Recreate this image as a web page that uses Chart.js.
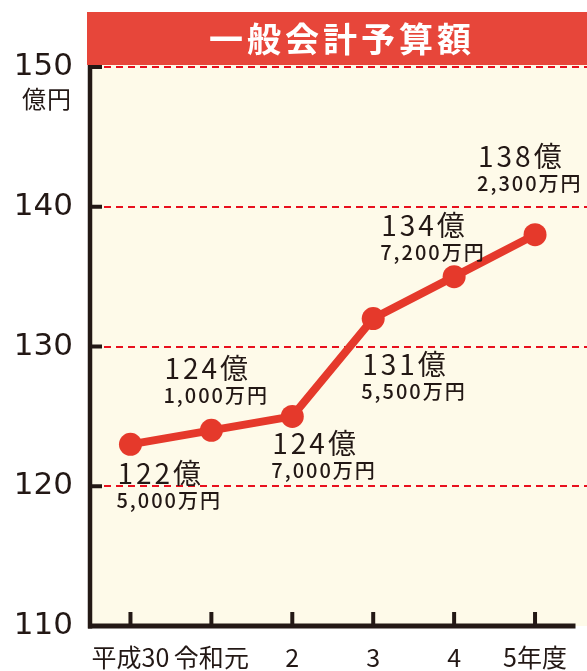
<!DOCTYPE html>
<html>
<head>
<meta charset="utf-8">
<script src="https://cdn.jsdelivr.net/npm/chart.js@4.4.1/dist/chart.umd.min.js"></script>
<style>
  html, body { margin: 0; padding: 0; background: #ffffff; }
  #wrap { width: 587px; height: 671px; }
</style>
</head>
<body>
<div id="wrap"><canvas id="c" width="587" height="671"></canvas></div>
<script>
// ---- data ----
const titleText = '一般会計予算額';
const unitText = '億円';
const categories = ['平成30', '令和元', '2', '3', '4', '5年度'];
const plottedValues = [123, 124, 125, 132, 135, 138];
const labelOku = ['122億', '124億', '124億', '131億', '134億', '138億'];
const labelMan = ['5,000万円', '1,000万円', '7,000万円', '5,500万円', '7,200万円', '2,300万円'];
const yTicks = [110, 120, 130, 140, 150];
const gridValues = [120, 130, 140, 150];

// ---- styles ----
const RED_TITLE = '#e7463a';
const RED_LINE = '#e5392b';
const RED_GRID = '#e8101e';
const CREAM = '#fefae9';
const INK = '#231815';
const JP = "'Noto Sans CJK JP', 'Noto Sans', sans-serif";
// label placement (offset of big line's left/middle from point), purely presentational
const labelOffsets = [[-13, 29], [-47, -62], [-20, 27], [-11, 46], [-73, -51], [-57, -78]];

const decor = {
  id: 'decor',
  beforeDraw(chart) {
    const ctx = chart.ctx;
    const y = chart.scales.y, x = chart.scales.x;
    const area = chart.chartArea;
    const W = chart.width;
    ctx.save();
    ctx.fillStyle = '#ffffff';
    ctx.fillRect(0, 0, W, chart.height);
    // cream plot background
    ctx.fillStyle = CREAM;
    ctx.fillRect(area.left, area.top - 2, W - area.left, area.bottom - area.top + 2);
    // title bar
    ctx.fillStyle = RED_TITLE;
    ctx.fillRect(area.left - 3, 12, W - area.left + 3, area.top - 14);
    ctx.fillStyle = '#ffffff';
    ctx.font = 'bold 34px ' + JP;
    ctx.letterSpacing = '4px';
    ctx.textAlign = 'center';
    ctx.textBaseline = 'middle';
    ctx.fillText(titleText, 342, 39);
    ctx.letterSpacing = '0px';
    // dashed gridlines
    ctx.strokeStyle = RED_GRID;
    ctx.lineWidth = 2;
    ctx.setLineDash([7, 5]);
    gridValues.forEach(v => {
      const py = Math.round(y.getPixelForValue(v));
      ctx.beginPath();
      ctx.moveTo(area.left + 2, py);
      ctx.lineTo(W, py);
      ctx.stroke();
    });
    ctx.setLineDash([]);
    // axes
    ctx.strokeStyle = INK;
    ctx.lineWidth = 4.5;
    ctx.beginPath();
    ctx.moveTo(area.left, area.top - 2);
    ctx.lineTo(area.left, area.bottom + 2.5);
    ctx.stroke();
    ctx.lineWidth = 5;
    ctx.beginPath();
    ctx.moveTo(area.left - 2, area.bottom);
    ctx.lineTo(area.right, area.bottom);
    ctx.stroke();
    // inward ticks
    ctx.lineWidth = 4;
    gridValues.forEach(v => {
      const py = y.getPixelForValue(v);
      ctx.beginPath();
      ctx.moveTo(area.left, py);
      ctx.lineTo(area.left + 12, py);
      ctx.stroke();
    });
    categories.forEach((c, i) => {
      const px = x.getPixelForValue(i);
      ctx.beginPath();
      ctx.moveTo(px, area.bottom);
      ctx.lineTo(px, area.bottom - 14);
      ctx.stroke();
    });
    // unit
    ctx.fillStyle = INK;
    ctx.font = '24px ' + JP;
    ctx.letterSpacing = '1px';
    ctx.textAlign = 'center';
    ctx.textBaseline = 'middle';
    ctx.fillText(unitText, 47, 99);
    ctx.restore();
  },
  afterDraw(chart) {
    const ctx = chart.ctx;
    const meta = chart.getDatasetMeta(0);
    ctx.save();
    ctx.fillStyle = INK;
    ctx.textAlign = 'left';
    ctx.textBaseline = 'middle';
    meta.data.forEach((pt, i) => {
      const [dx, dy] = labelOffsets[i];
      ctx.font = '28px ' + JP;
      ctx.letterSpacing = '3px';
      ctx.fillText(labelOku[i], pt.x + dx, pt.y + dy);
      ctx.font = '500 20px ' + JP;
      ctx.letterSpacing = '2px';
      ctx.fillText(labelMan[i], pt.x + dx - 1, pt.y + dy + 27);
    });
    ctx.restore();
  }
};

new Chart(document.getElementById('c'), {
  type: 'line',
  data: {
    labels: categories,
    datasets: [{
      data: plottedValues,
      borderColor: RED_LINE,
      backgroundColor: RED_LINE,
      borderWidth: 8,
      pointRadius: 11.5,
      pointHoverRadius: 11.5,
      pointBorderWidth: 0,
      pointBackgroundColor: RED_LINE,
      tension: 0,
      clip: false
    }]
  },
  options: {
    responsive: false,
    animation: false,
    events: [],
    layout: { padding: { top: 67, right: 9, left: 0, bottom: 0 } },
    plugins: { legend: { display: false }, tooltip: { enabled: false }, title: { display: false } },
    scales: {
      x: {
        type: 'category',
        offset: true,
        grid: { display: false, drawTicks: false },
        border: { display: false },
        ticks: {
          padding: 16, autoSkip: false, maxRotation: 0, minRotation: 0,
          color: INK, font: { family: JP, size: 25 }
        },
        afterFit(s) { s.height = 45; }
      },
      y: {
        min: 110, max: 150,
        afterBuildTicks(s) { s.ticks = yTicks.map(v => ({ value: v })); },
        grid: { display: false, drawTicks: false },
        border: { display: false },
        ticks: {
          padding: 17, color: INK,
          font: { family: "'DejaVu Sans', sans-serif", size: 31 }
        },
        afterFit(s) { s.width = 90; }
      }
    }
  },
  plugins: [decor]
});
</script>
</body>
</html>
